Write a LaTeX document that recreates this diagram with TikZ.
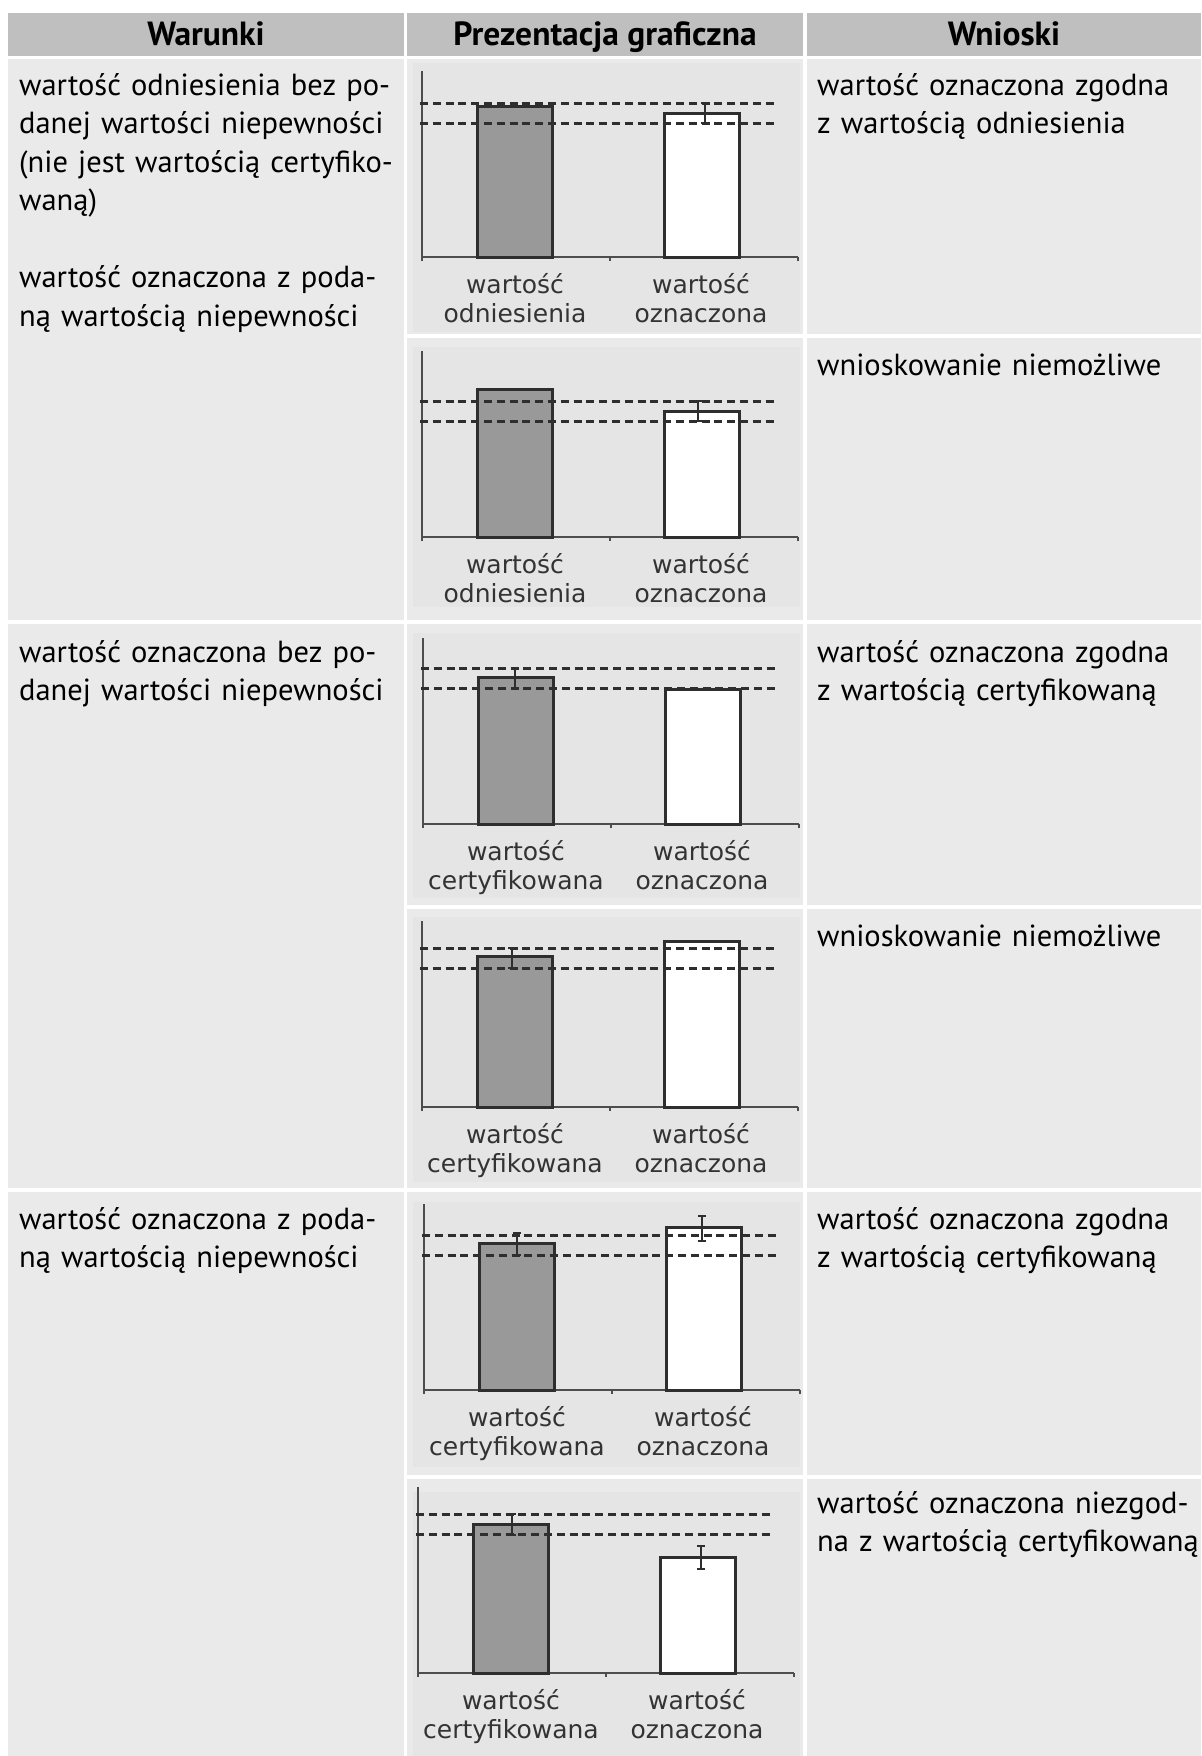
\documentclass[tikz,border=0pt]{standalone}
\usepackage{fontspec}
\setmainfont{PT Sans}
\newfontfamily\chartfont{DejaVu Sans}
\usetikzlibrary{positioning}
\definecolor{headgray}{HTML}{BFBFBF}
\definecolor{cellgray}{HTML}{EAEAEA}
\definecolor{panelgray}{HTML}{E5E5E5}
\definecolor{bargray}{HTML}{999999}
\definecolor{inkgray}{HTML}{2E2E2E}
\definecolor{lblgray}{HTML}{333333}

\begin{document}
\begin{tikzpicture}[x=1bp,y=-1bp,
      head_cell/.style={
         fill=headgray},
      body_cell/.style={
         fill=cellgray},
      panel_bg/.style={
         fill=panelgray},
      head_txt/.style={
         anchor=base,
         inner sep=0pt,
         font=\fontsize{33.5bp}{38bp}\selectfont\bfseries},
      body_txt/.style={
         anchor=base west,
         inner sep=0pt,
         text width=440bp,
         align=left,
         font=\fontsize{30.5bp}{38.5bp}\selectfont},
      lbl_txt/.style={
         anchor=base,
         inner sep=0pt,
         text width=200bp,
         align=center,
         text=lblgray,
         font=\chartfont\fontsize{25bp}{29bp}\selectfont},
      axis_line/.style={
         draw=inkgray!85,
         line width=1.8bp},
      bar_ref/.style={
         draw=inkgray,
         fill=bargray,
         line width=3bp},
      bar_val/.style={
         draw=inkgray,
         fill=white,
         line width=3bp},
      dash_line/.style={
         draw=inkgray,
         line width=3bp,
         dash pattern=on 8bp off 4.8bp},
      err_bar/.style={
         draw=inkgray,
         line width=1.6bp}
]
      \useasboundingbox (0,0) rectangle (1201,1756);
      \fill[white] (0,0) rectangle (1201,1756);

      %header
      \foreach \xa/\xb in {8/404,407/803,807/1201}
        \fill[head_cell] (\xa,13) rectangle (\xb,56);
      \node[head_txt] (h_war) at (206,45) {Warunki};
      \node[head_txt] (h_pre) at (605,45) {Prezentacja graficzna};
      \node[head_txt] (h_wni) at (1004,45) {Wnioski};

      %cells of the first column
      \foreach \ya/\yb in {59/620,624/1188,1192/1756}
        \fill[body_cell] (8,\ya) rectangle (404,\yb);

      %cells of the other two columns, with the chart panels
      \foreach \ya/\yb/\pa/\pb in {% cell top/cell bottom/panel top/panel bottom
        59/334/63/332,
        338/620/347/607,
        624/905/633/898,
        909/1188/917/1182,
        1192/1475/1202/1467,
        1479/1756/1492/1756}
      {
        \fill[body_cell] (407,\ya) rectangle (803,\yb);
        \fill[body_cell] (807,\ya) rectangle (1201,\yb);
        \fill[panel_bg] (413,\pa) rectangle (800,\pb);
      }

      %conditions
      \node[body_txt] (w1) at (19,95) {wartość odniesienia bez po-\\danej wartości niepewności\\(nie jest wartością certyfiko-\\waną)\\[38.5bp]wartość oznaczona z poda-\\ną wartością niepewności};
      \node[body_txt] (w2) at (19,662) {wartość oznaczona bez po-\\danej wartości niepewności};
      \node[body_txt] (w3) at (19,1229) {wartość oznaczona z poda-\\ną wartością niepewności};

      %conclusions
      \node[body_txt] (r1) at (817,95) {wartość oznaczona zgodna\\z wartością odniesienia};
      \node[body_txt] (r2) at (817,375) {wnioskowanie niemożliwe};
      \node[body_txt] (r3) at (817,662) {wartość oznaczona zgodna\\z wartością certyfikowaną};
      \node[body_txt] (r4) at (817,946) {wnioskowanie niemożliwe};
      \node[body_txt] (r5) at (817,1229) {wartość oznaczona zgodna\\z wartością certyfikowaną};
      \node[body_txt] (r6) at (817,1513) {wartość oznaczona niezgod-\\na z wartością certyfikowaną};

      %charts
      \foreach \n/\ax/\ay/\dy/\ba/\bb/\lab in {% chart/axis x/axis y/upper dash/ref bar top/value bar top/ref label
        c1/422/257/103/106/113/odniesienia,
        c2/422/537/401/389/411/odniesienia,
        c3/423/824/668/677/689/certyfikowana,
        c4/422/1107/948/956/941/certyfikowana,
        c5/424/1390/1235/1243/1227/certyfikowana,
        c6/418/1673/1514/1524/1557/certyfikowana}
      {
        \draw[axis_line] (\ax,\ay-186) -- (\ax,\ay) -- (\ax+376,\ay);
        \draw[axis_line] (\ax,\ay) -- ++(0,4) (\ax+188,\ay) -- ++(0,4) (\ax+376,\ay) -- ++(0,4);
        \draw[bar_ref] (\ax+55,\ay) rectangle (\ax+130,\ba);
        \draw[bar_val] (\ax+242,\ay) rectangle (\ax+317,\bb);
        \draw[dash_line] (\ax-2,\dy) -- (\ax+352,\dy);
        \draw[dash_line] (\ax-2,\dy+20) -- (\ax+352,\dy+20);
        \node[lbl_txt] (\n-ref) at (\ax+93,\ay+36) {wartość\\\lab};
        \node[lbl_txt] (\n-val) at (\ax+279,\ay+36) {wartość\\oznaczona};
      }

      %error bars
      \foreach \x/\ya/\yb in {% x/top/bottom
        705/103/123,
        698/401/421,
        515/668/688,
        512/948/968,
        517/1233/1255,
        702/1216/1241,
        512/1514/1535,
        701/1546/1569}
        \draw[err_bar] (\x-4,\ya) -- ++(8,0) (\x,\ya) -- (\x,\yb) (\x-4,\yb) -- ++(8,0);

\end{tikzpicture}
\end{document}
